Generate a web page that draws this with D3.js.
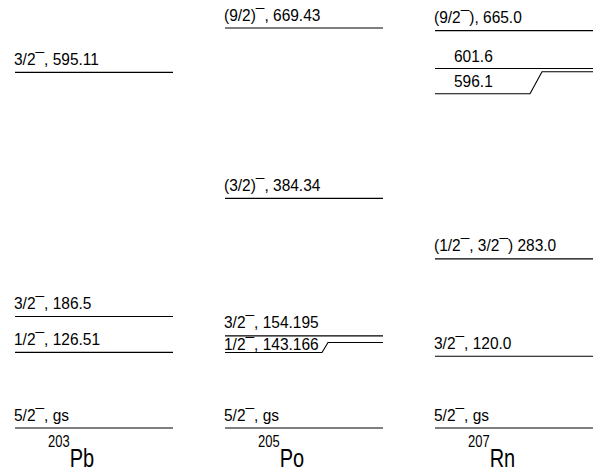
<!DOCTYPE html>
<html>
<head>
<meta charset="utf-8">
<script src="https://cdn.jsdelivr.net/npm/d3@7"></script>
<style>
  html, body { margin: 0; padding: 0; background: #fff; }
  svg { display: block; }
  text { font-family: "Liberation Sans", Arial, Helvetica, sans-serif; fill: #000; }
</style>
</head>
<body>
<svg id="chart" width="611" height="472"></svg>
<script>
// Level schemes of the three isotones. Energies in keV (kept as text so the
// printed precision is preserved), spin/parity prefixes written before them.
const massNumbers = ["203", "205", "207"];
const elements = ["Pb", "Po", "Rn"];

const pbEnergy = ["0", "126.51", "186.5", "595.11"];
const pbSpin = ["5/2^-, ", "1/2^-, ", "3/2^-, ", "3/2^-, "];

const poEnergy = ["0", "143.166", "154.195", "384.34", "669.43"];
const poSpin = ["5/2^-, ", "1/2^-, ", "3/2^-, ", "(3/2)^-, ", "(9/2)^-, "];

const rnEnergy = ["0", "120.0", "283.0", "596.1", "601.6", "665.0"];
const rnSpin = ["5/2^-, ", "3/2^-, ", "(1/2^-, 3/2^-) ", "", "", "(9/2^-), "];

const schemes = [
  { energy: pbEnergy, spin: pbSpin },
  { energy: poEnergy, spin: poSpin },
  { energy: rnEnergy, spin: rnSpin }
];

// Levels whose left part is pulled down to make room for the label,
// joined to the true level position by a short slanted segment.
const kinked = {
  "1:143.166": { drop: 10, kinkStart: 97, kinkEnd: 103 },
  "2:596.1": { drop: 22, kinkStart: 95, kinkEnd: 107 }
};
// Label offsets: indent from the level's left end and height above it.
const indent = { "2:596.1": 20, "2:601.6": 20 };
const labelGap = { "1:143.166": 2.5, "2:596.1": 6.5, "2:601.6": 6.5 };
const defaultGap = 7.5;

const svg = d3.select("#chart");

const y = d3.scaleLinear().domain([0, 669.43]).range([428, 28]);
const x = d3.scaleBand().domain(d3.range(schemes.length)).range([15, 645]).paddingInner(0);
const levelWidth = 158;
const fontSize = 15.5;

// Writes a label, turning every "^-" into a raised bar.
function writeLabel(sel, str) {
  const parts = str.split("^-");
  parts.forEach((p, i) => {
    if (p) sel.append("tspan").text(p);
    if (i < parts.length - 1) sel.append("tspan").text("\u00AF");
  });
}

// Text with glyphs drawn a little taller than wide.
function placeText(g, tx, ty, stretch) {
  return g.append("text")
    .attr("transform", `translate(${tx},${ty}) scale(1,${stretch})`);
}

schemes.forEach((s, i) => {
  const g = svg.append("g");
  const x0 = x(i);
  const x1 = x0 + levelWidth;

  s.energy.forEach((eText, j) => {
    const E = +eText;
    const yl = y(E);
    const key = i + ":" + eText;
    const k = kinked[key];
    const path = d3.path();
    let yLabelLine = yl;
    if (k) {
      const yd = yl + k.drop;
      path.moveTo(x0, yd);
      path.lineTo(x0 + k.kinkStart, yd);
      path.lineTo(x0 + k.kinkEnd, yl);
      path.lineTo(x1, yl);
      yLabelLine = yd;
    } else {
      path.moveTo(x0, yl);
      path.lineTo(x1, yl);
    }
    g.append("path")
      .attr("d", path.toString())
      .attr("fill", "none")
      .attr("stroke", "#000")
      .attr("stroke-width", 1.1);

    const label = s.spin[j] + (E === 0 ? "gs" : eText);
    const gap = labelGap[key] !== undefined ? labelGap[key] : defaultGap;
    const t = placeText(g, x0 - 1 + (indent[key] || 0), yLabelLine - gap, 1.1)
      .attr("font-size", fontSize);
    writeLabel(t, label);
  });

  // Nuclide name with mass number as a superscript.
  const nt = placeText(g, x0 + 33, 467, 1.25);
  nt.append("tspan")
    .attr("font-size", 13)
    .attr("dy", -16)
    .text(massNumbers[i]);
  nt.append("tspan")
    .attr("font-size", 20)
    .attr("dy", 16)
    .text(elements[i]);
});
</script>
</body>
</html>
